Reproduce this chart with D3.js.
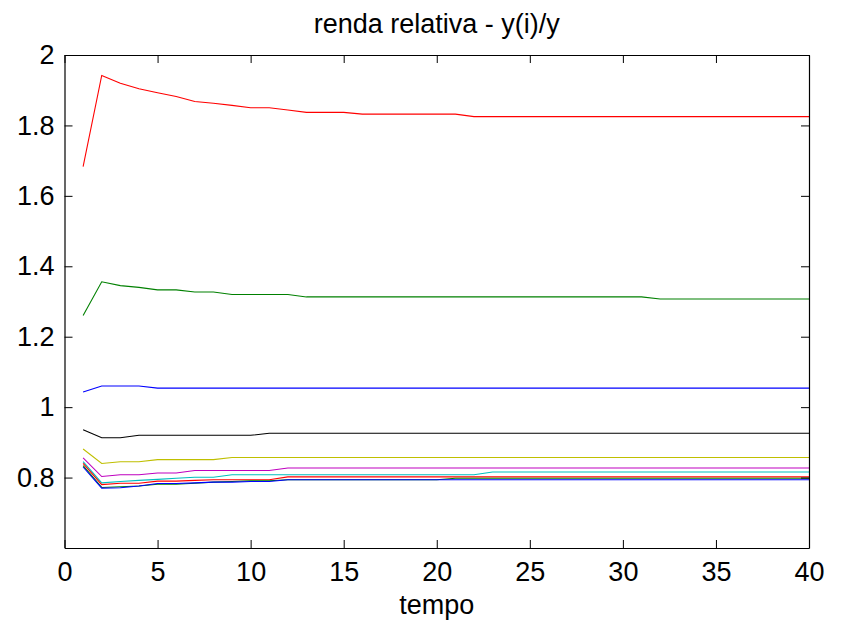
<!DOCTYPE html>
<html>
<head>
<meta charset="utf-8">
<script src="https://cdn.jsdelivr.net/npm/d3@7"></script>
<style>
  body { margin: 0; background: #fff; }
  text { font-family: "Liberation Sans", Arial, sans-serif; }
</style>
</head>
<body>
<svg id="chart"></svg>
<script>
var width = 846, height = 627;
var margin = { top: 55, right: 37, bottom: 79, left: 64.5 };

var titleText = "renda relativa - y(i)/y";
var xLabel = "tempo";
var xTicks = [0, 5, 10, 15, 20, 25, 30, 35, 40];
var yTicks = [0.8, 1, 1.2, 1.4, 1.6, 1.8, 2];

var tempo = d3.range(1, 41);

var seriesColors = ["#ff0000", "#008000", "#0000ff", "#000000", "#bfbf00", "#bf00bf", "#00bfbf", "#ff0000", "#008000", "#0000ff"];

// each series: values for t = 1..40
var s1 = [1.683, 1.942, 1.920, 1.904, 1.893, 1.882, 1.868, 1.863, 1.857, 1.850,
          1.850, 1.844, 1.837, 1.837, 1.837, 1.832, 1.832, 1.832, 1.832, 1.832,
          1.832, 1.825, 1.825, 1.825, 1.825, 1.825, 1.825, 1.825, 1.825, 1.825,
          1.825, 1.825, 1.825, 1.825, 1.825, 1.825, 1.825, 1.825, 1.825, 1.825];
var s2 = [1.260, 1.356, 1.345, 1.340, 1.333, 1.333, 1.327, 1.327, 1.320, 1.320,
          1.320, 1.320, 1.313, 1.313, 1.313, 1.313, 1.313, 1.313, 1.313, 1.313,
          1.313, 1.313, 1.313, 1.313, 1.313, 1.313, 1.313, 1.313, 1.313, 1.313,
          1.313, 1.307, 1.307, 1.307, 1.307, 1.307, 1.307, 1.307, 1.307, 1.307];
var s3 = [1.043, 1.060, 1.060, 1.060, 1.054, 1.054, 1.054, 1.054, 1.054, 1.054,
          1.054, 1.054, 1.054, 1.054, 1.054, 1.054, 1.054, 1.054, 1.054, 1.054,
          1.054, 1.054, 1.054, 1.054, 1.054, 1.054, 1.054, 1.054, 1.054, 1.054,
          1.054, 1.054, 1.054, 1.054, 1.054, 1.054, 1.054, 1.054, 1.054, 1.054];
var s4 = [0.936, 0.913, 0.913, 0.920, 0.920, 0.920, 0.920, 0.920, 0.920, 0.920,
          0.926, 0.926, 0.926, 0.926, 0.926, 0.926, 0.926, 0.926, 0.926, 0.926,
          0.926, 0.926, 0.926, 0.926, 0.926, 0.926, 0.926, 0.926, 0.926, 0.926,
          0.926, 0.926, 0.926, 0.926, 0.926, 0.926, 0.926, 0.926, 0.926, 0.926];
var s5 = [0.881, 0.840, 0.845, 0.845, 0.851, 0.851, 0.851, 0.851, 0.857, 0.857,
          0.857, 0.857, 0.857, 0.857, 0.857, 0.857, 0.857, 0.857, 0.857, 0.857,
          0.857, 0.857, 0.857, 0.857, 0.857, 0.857, 0.857, 0.857, 0.857, 0.857,
          0.857, 0.857, 0.857, 0.857, 0.857, 0.857, 0.857, 0.857, 0.857, 0.857];
var s6 = [0.856, 0.803, 0.808, 0.808, 0.813, 0.813, 0.820, 0.820, 0.820, 0.820,
          0.820, 0.827, 0.827, 0.827, 0.827, 0.827, 0.827, 0.827, 0.827, 0.827,
          0.827, 0.827, 0.827, 0.827, 0.827, 0.827, 0.827, 0.827, 0.827, 0.827,
          0.827, 0.827, 0.827, 0.827, 0.827, 0.827, 0.827, 0.827, 0.827, 0.827];
var s7 = [0.845, 0.785, 0.789, 0.792, 0.795, 0.798, 0.801, 0.801, 0.808, 0.808,
          0.808, 0.808, 0.808, 0.808, 0.808, 0.808, 0.808, 0.808, 0.808, 0.808,
          0.808, 0.808, 0.816, 0.816, 0.816, 0.816, 0.816, 0.816, 0.816, 0.816,
          0.816, 0.816, 0.816, 0.816, 0.816, 0.816, 0.816, 0.816, 0.816, 0.816];
var s8 = [0.840, 0.780, 0.784, 0.784, 0.790, 0.790, 0.792, 0.794, 0.794, 0.794,
          0.794, 0.802, 0.802, 0.802, 0.802, 0.802, 0.802, 0.802, 0.802, 0.802,
          0.802, 0.802, 0.802, 0.802, 0.802, 0.802, 0.802, 0.802, 0.802, 0.802,
          0.802, 0.802, 0.802, 0.802, 0.802, 0.802, 0.802, 0.802, 0.802, 0.802];
var s9 = [0.834, 0.772, 0.774, 0.776, 0.781, 0.781, 0.784, 0.787, 0.789, 0.791,
          0.791, 0.794, 0.794, 0.794, 0.794, 0.794, 0.794, 0.794, 0.794, 0.794,
          0.798, 0.798, 0.798, 0.798, 0.798, 0.798, 0.798, 0.798, 0.798, 0.798,
          0.798, 0.798, 0.798, 0.798, 0.798, 0.798, 0.798, 0.798, 0.798, 0.798];
var s10 = [0.830, 0.770, 0.771, 0.776, 0.783, 0.783, 0.785, 0.787, 0.787, 0.789,
           0.789, 0.794, 0.794, 0.794, 0.794, 0.794, 0.794, 0.794, 0.794, 0.794,
           0.794, 0.794, 0.794, 0.794, 0.794, 0.794, 0.794, 0.794, 0.794, 0.794,
           0.794, 0.794, 0.794, 0.794, 0.794, 0.794, 0.794, 0.794, 0.794, 0.794];

var allSeries = [s1, s2, s3, s4, s5, s6, s7, s8, s9, s10];

var svg = d3.select("#chart").attr("width", width).attr("height", height);
svg.append("rect").attr("width", width).attr("height", height).attr("fill", "#fff");

var w = width - margin.left - margin.right;
var h = height - margin.top - margin.bottom;

var x = d3.scaleLinear().domain([0, 40]).range([0, w]);
var y = d3.scaleLinear().domain([0.6, 2]).range([h, 0]);

var g = svg.append("g")
  .attr("transform", "translate(" + margin.left + "," + margin.top + ")");

var line = d3.line()
  .x(function(d, i) { return x(tempo[i]); })
  .y(function(d) { return y(d); });

g.selectAll("path.serie")
  .data(allSeries)
  .enter()
  .append("path")
  .attr("class", "serie")
  .attr("d", line)
  .attr("fill", "none")
  .attr("stroke", function(d, i) { return seriesColors[i]; })
  .attr("stroke-width", 1.1);

var tickLen = 8;

g.append("g")
  .attr("transform", "translate(0," + h + ")")
  .call(d3.axisBottom(x).tickValues(xTicks).tickSizeInner(-tickLen).tickSizeOuter(0).tickPadding(14));

g.append("g")
  .call(d3.axisTop(x).tickValues(xTicks).tickSizeInner(-tickLen).tickSizeOuter(0).tickFormat(""));

g.append("g")
  .call(d3.axisLeft(y).tickValues(yTicks).tickSizeInner(-tickLen).tickSizeOuter(0).tickPadding(10)
    .tickFormat(function(d) { return d3.format("")(+d.toFixed(1)); }));

g.append("g")
  .attr("transform", "translate(" + w + ",0)")
  .call(d3.axisRight(y).tickValues(yTicks).tickSizeInner(-tickLen).tickSizeOuter(0).tickFormat(""));

g.selectAll(".domain").attr("stroke", "#000").attr("stroke-width", 1.2);
g.selectAll(".tick line").attr("stroke", "#000");
g.selectAll(".tick text")
  .attr("fill", "#000")
  .style("font-size", "27px")
  .style("font-family", "Liberation Sans, Arial, sans-serif");

svg.append("text")
  .attr("x", margin.left + w / 2)
  .attr("y", 33)
  .attr("text-anchor", "middle")
  .style("font-size", "27px")
  .text(titleText);

svg.append("text")
  .attr("x", margin.left + w / 2)
  .attr("y", 614)
  .attr("text-anchor", "middle")
  .style("font-size", "27px")
  .text(xLabel);
</script>
</body>
</html>
